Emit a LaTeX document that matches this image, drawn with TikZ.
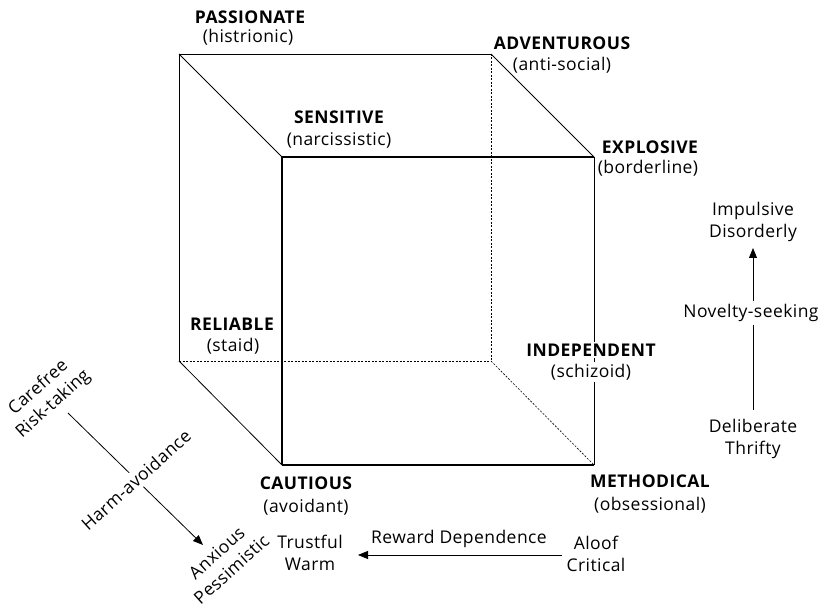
\documentclass[tikz,border=0pt]{standalone}
\usepackage{fontspec}
\setmainfont{Open Sans}[LetterSpace=2.5]
\usetikzlibrary{arrows.meta}
\begin{document}
\begin{tikzpicture}[x=1pt,y=-1pt,
  lbl/.style={font=\fontsize{17.5}{22}\selectfont, align=center, inner sep=1pt},
  head/.style={lbl, font=\fontsize{17.5}{22}\selectfont\bfseries},
  backedge/.style={line width=0.8pt},
  hidden/.style={line width=0.6pt, dash pattern=on 2pt off 1.5pt},
  frontedge/.style={line width=1.4pt},
  axis/.style={line width=0.8pt, -{Triangle[length=10pt,width=8pt]}},
  gap/.style={lbl, fill=white, inner sep=3pt}]
\useasboundingbox (0,0) rectangle (823,604);

% cube corners
\coordinate (btl) at (179,54);
\coordinate (btr) at (491,54);
\coordinate (bbl) at (179,361);
\coordinate (bbr) at (491,361);
\coordinate (ftl) at (282,157);
\coordinate (ftr) at (594,157);
\coordinate (fbl) at (282,465);
\coordinate (fbr) at (594,465);

% hidden edges
\draw[hidden] (btr) -- (bbr);
\draw[hidden] (bbl) -- (bbr);
\draw[hidden] (bbr) -- (fbr);

% visible back and side edges
\draw[backedge] (bbl) -- (btl) -- (btr);
\draw[backedge] (btl) -- (ftl);
\draw[backedge] (btr) -- (ftr);
\draw[backedge] (bbl) -- (fbl);

% front face
\draw[frontedge] (fbl) -- (ftl) -- (ftr);
\draw[line width=1.1pt] (fbl) -- (fbr);
\draw[line width=0.9pt] (ftr) -- (fbr);

% corner labels
\node[head] (pass) at (250,17) {PASSIONATE};
\node[lbl] (hist) at (248,37) {(histrionic)};
\node[head] (adv) at (562,43) {ADVENTUROUS};
\node[lbl] (anti) at (562,65) {(anti-social)};
\node[head] (sens) at (339,117) {SENSITIVE};
\node[lbl] (narc) at (339,140) {(narcissistic)};
\node[head] (expl) at (650,147) {EXPLOSIVE};
\node[lbl] (bord) at (648,168) {(borderline)};
\node[head] (rel) at (232,324) {RELIABLE};
\node[lbl] (staid) at (233,346) {(staid)};
\node[head, fill=white, inner sep=2pt] (indep) at (591,350) {INDEPENDENT};
\node[lbl, fill=white, inner sep=2pt] (schiz) at (591,372) {(schizoid)};
\node[head] (caut) at (306,483) {CAUTIOUS};
\node[lbl] (avoid) at (306,507) {(avoidant)};
\node[head] (meth) at (650,481) {METHODICAL};
\node[lbl] (obs) at (650,505) {(obsessional)};

% novelty-seeking axis
\node[lbl] (imp) at (753,222) {Impulsive\\Disorderly};
\node[lbl] (delib) at (753,439) {Deliberate\\Thrifty};
\coordinate (nsLow) at (753,410);
\coordinate (nsHigh) at (753,248);
\draw[axis] (nsLow) -- (nsHigh);
\node[gap] (ns) at (751,313) {Novelty-seeking};

% reward dependence axis
\node[lbl] (aloof) at (596,554) {Aloof\\Critical};
\node[lbl] (trust) at (310,553) {Trustful\\Warm};
\coordinate (rdFrom) at (562,555);
\coordinate (rdTo) at (358,555);
\draw[axis] (rdFrom) -- (rdTo);
\node[lbl] (rd) at (459,539) {Reward Dependence};

% harm-avoidance axis
\node[lbl, rotate=42] (care) at (46,396) {Carefree\\Risk-taking};
\node[lbl, rotate=42] (anx) at (224,561) {Anxious\\Pessimistic};
\coordinate (haFrom) at (68,413);
\coordinate (haTo) at (203,545);
\draw[axis] (haFrom) -- (haTo);
\node[gap, rotate=42] (ha) at (136,480) {Harm-avoidance};
\end{tikzpicture}
\end{document}
